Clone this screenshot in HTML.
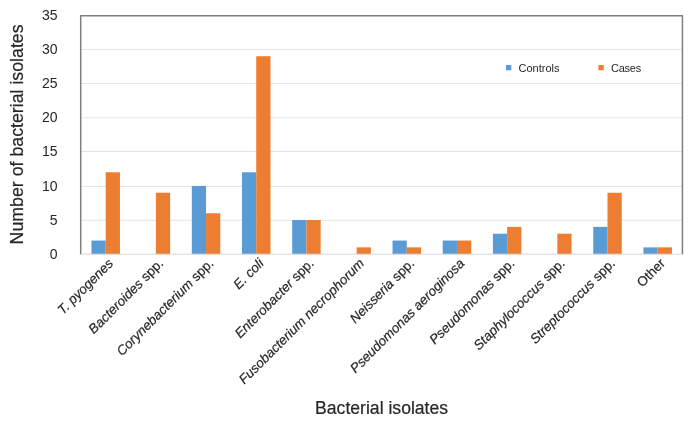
<!DOCTYPE html>
<html><head><meta charset="utf-8"><style>
html,body{margin:0;padding:0;background:#fff;}
svg{display:block;font-family:"Liberation Sans",Arial,sans-serif;fill:#262626;}
text{fill:#262626;}
.b{stroke:#262626;stroke-width:0.2px;}
</style></head><body>
<svg width="693" height="425" viewBox="0 0 693 425">
<rect width="693" height="425" fill="#fff"/>
<line x1="80.7" x2="682.45" y1="220.30" y2="220.30" stroke="#e4e4e4" stroke-width="1"/>
<line x1="80.7" x2="682.45" y1="186.40" y2="186.40" stroke="#e4e4e4" stroke-width="1"/>
<line x1="80.7" x2="682.45" y1="151.50" y2="151.50" stroke="#e4e4e4" stroke-width="1"/>
<line x1="80.7" x2="682.45" y1="117.80" y2="117.80" stroke="#e4e4e4" stroke-width="1"/>
<line x1="80.7" x2="682.45" y1="83.45" y2="83.45" stroke="#e4e4e4" stroke-width="1"/>
<line x1="80.7" x2="682.45" y1="49.45" y2="49.45" stroke="#e4e4e4" stroke-width="1"/>
<rect x="91.45" y="240.55" width="14.25" height="13.65" fill="#5b9bd5"/>
<rect x="105.70" y="172.28" width="14.25" height="81.92" fill="#ed7d31"/>
<rect x="155.88" y="192.76" width="14.25" height="61.44" fill="#ed7d31"/>
<rect x="191.81" y="185.93" width="14.25" height="68.27" fill="#5b9bd5"/>
<rect x="206.06" y="213.24" width="14.25" height="40.96" fill="#ed7d31"/>
<rect x="241.99" y="172.28" width="14.25" height="81.92" fill="#5b9bd5"/>
<rect x="256.24" y="56.22" width="14.25" height="197.98" fill="#ed7d31"/>
<rect x="292.17" y="220.06" width="14.25" height="34.13" fill="#5b9bd5"/>
<rect x="306.42" y="220.06" width="14.25" height="34.13" fill="#ed7d31"/>
<rect x="356.60" y="247.37" width="14.25" height="6.83" fill="#ed7d31"/>
<rect x="392.53" y="240.55" width="14.25" height="13.65" fill="#5b9bd5"/>
<rect x="406.78" y="247.37" width="14.25" height="6.83" fill="#ed7d31"/>
<rect x="442.71" y="240.55" width="14.25" height="13.65" fill="#5b9bd5"/>
<rect x="456.96" y="240.55" width="14.25" height="13.65" fill="#ed7d31"/>
<rect x="492.89" y="233.72" width="14.25" height="20.48" fill="#5b9bd5"/>
<rect x="507.14" y="226.89" width="14.25" height="27.31" fill="#ed7d31"/>
<rect x="557.32" y="233.72" width="14.25" height="20.48" fill="#ed7d31"/>
<rect x="593.25" y="226.89" width="14.25" height="27.31" fill="#5b9bd5"/>
<rect x="607.50" y="192.76" width="14.25" height="61.44" fill="#ed7d31"/>
<rect x="643.43" y="247.37" width="14.25" height="6.83" fill="#5b9bd5"/>
<rect x="657.68" y="247.37" width="14.25" height="6.83" fill="#ed7d31"/>
<line x1="80.7" x2="682.45" y1="254.2" y2="254.2" stroke="#d9d9d9" stroke-width="1"/>
<path d="M80.7 254.2 V15.65 H682.45 V254.2" fill="none" stroke="#7f7f7f" stroke-width="1.5" stroke-linejoin="round"/>
<text x="57.5" y="258.74" text-anchor="end" font-size="14">0</text>
<text x="57.5" y="224.84" text-anchor="end" font-size="14">5</text>
<text x="57.5" y="190.94" text-anchor="end" font-size="14">10</text>
<text x="57.5" y="156.04" text-anchor="end" font-size="14">15</text>
<text x="57.5" y="122.34" text-anchor="end" font-size="14">20</text>
<text x="57.5" y="87.99" text-anchor="end" font-size="14">25</text>
<text x="57.5" y="53.99" text-anchor="end" font-size="14">30</text>
<text x="57.5" y="20.04" text-anchor="end" font-size="14">35</text>
<text x="114.00" y="264.20" class="b" text-anchor="end" font-size="13.35" transform="rotate(-45 114.00 264.20)"><tspan font-style="italic">T. pyogenes</tspan></text>
<text x="164.18" y="264.20" class="b" text-anchor="end" font-size="13.35" transform="rotate(-45 164.18 264.20)"><tspan font-style="italic">Bacteroides</tspan><tspan> spp.</tspan></text>
<text x="214.36" y="264.20" class="b" text-anchor="end" font-size="13.35" transform="rotate(-45 214.36 264.20)"><tspan font-style="italic">Corynebacterium</tspan><tspan> spp.</tspan></text>
<text x="264.54" y="264.20" class="b" text-anchor="end" font-size="13.35" transform="rotate(-45 264.54 264.20)"><tspan font-style="italic">E. coli</tspan></text>
<text x="314.72" y="264.20" class="b" text-anchor="end" font-size="13.35" transform="rotate(-45 314.72 264.20)"><tspan font-style="italic">Enterobacter</tspan><tspan> spp.</tspan></text>
<text x="364.90" y="264.20" class="b" text-anchor="end" font-size="13.35" transform="rotate(-45 364.90 264.20)"><tspan font-style="italic">Fusobacterium necrophorum</tspan></text>
<text x="415.08" y="264.20" class="b" text-anchor="end" font-size="13.35" transform="rotate(-45 415.08 264.20)"><tspan font-style="italic">Neisseria</tspan><tspan> spp.</tspan></text>
<text x="465.26" y="264.20" class="b" text-anchor="end" font-size="13.35" transform="rotate(-45 465.26 264.20)"><tspan font-style="italic">Pseudomonas aeroginosa</tspan></text>
<text x="515.44" y="264.20" class="b" text-anchor="end" font-size="13.35" transform="rotate(-45 515.44 264.20)"><tspan font-style="italic">Pseudomonas</tspan><tspan> spp.</tspan></text>
<text x="565.62" y="264.20" class="b" text-anchor="end" font-size="13.35" transform="rotate(-45 565.62 264.20)"><tspan font-style="italic">Staphylococcus</tspan><tspan> spp.</tspan></text>
<text x="615.80" y="264.20" class="b" text-anchor="end" font-size="13.35" transform="rotate(-45 615.80 264.20)"><tspan font-style="italic">Streptococcus</tspan><tspan> spp.</tspan></text>
<text x="665.98" y="264.20" class="b" text-anchor="end" font-size="13.35" transform="rotate(-45 665.98 264.20)"><tspan>Other</tspan></text>
<rect x="506" y="65" width="5.3" height="5.3" fill="#5b9bd5"/>
<text x="518.5" y="71.6" font-size="11">Controls</text>
<rect x="598.4" y="65" width="5.3" height="5.3" fill="#ed7d31"/>
<text x="611" y="71.6" font-size="11" letter-spacing="-0.25">Cases</text>
<text class="b" x="381.6" y="414.2" text-anchor="middle" font-size="17.6">Bacterial isolates</text>
<text class="b" transform="translate(23.3 134.4) rotate(-90)" text-anchor="middle" font-size="17.75">Number of bacterial isolates</text>
</svg>
</body></html>
